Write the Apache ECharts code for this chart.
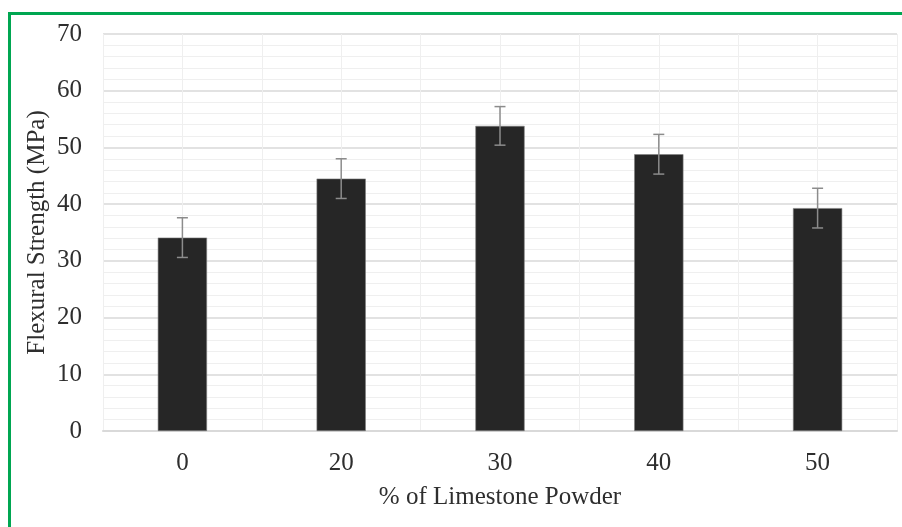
<!DOCTYPE html>
<html>
<head>
<meta charset="utf-8">
<script src="https://cdn.jsdelivr.net/npm/echarts@6/dist/echarts.min.js"></script>
<style>
html,body{margin:0;padding:0;width:902px;height:527px;overflow:hidden;background:#fff;}
#frame{position:absolute;left:8px;top:12px;width:1000px;height:1000px;border:3px solid #00a651;box-sizing:border-box;}
#chart{position:absolute;left:0;top:0;width:902px;height:527px;}
</style>
</head>
<body>
<div id="frame"></div>
<div id="chart"></div>
<script>
const categories = ['0', '20', '30', '40', '50'];
const strength = [34.1, 44.5, 53.8, 48.8, 39.3];
const errorPlus = [3.5, 3.5, 3.4, 3.5, 3.5];
const errorMinus = [3.5, 3.5, 3.4, 3.5, 3.5];
const yTicks = [0, 10, 20, 30, 40, 50, 60, 70];

const errData = categories.map((c, i) => [i, strength[i] - errorMinus[i], strength[i] + errorPlus[i]]);

const chart = echarts.init(document.getElementById('chart'));
const font = 'Liberation Serif, Times New Roman, serif';
const textColor = '#2e2e2e';
chart.setOption({
  animation: false,
  grid: {left: 103, right: 5, top: 34, bottom: 96},
  xAxis: [{
    type: 'category',
    data: categories,
    axisLine: {show: true, lineStyle: {color: '#d9d9d9', width: 2}},
    axisTick: {show: false},
    axisLabel: {fontFamily: font, fontSize: 25, color: textColor, margin: 20},
    splitLine: {show: false},
    name: '% of Limestone Powder',
    nameLocation: 'middle',
    nameGap: 54,
    nameMoveOverlap: false,
    nameTextStyle: {fontFamily: font, fontSize: 25, color: textColor}
  }, {
    type: 'value',
    min: 0, max: 5, interval: 0.5,
    show: true,
    position: 'bottom',
    axisLine: {show: false},
    axisTick: {show: false},
    axisLabel: {show: false},
    splitLine: {show: true, lineStyle: {color: '#efefef', width: 1}}
  }],
  yAxis: {
    type: 'value',
    min: yTicks[0],
    max: yTicks[yTicks.length - 1],
    interval: 10,
    axisLine: {show: false},
    axisTick: {show: false},
    axisLabel: {fontFamily: font, fontSize: 25, color: textColor, margin: 21},
    splitLine: {show: true, lineStyle: {color: '#d9d9d9', width: 1.5}},
    minorTick: {show: false, splitNumber: 5},
    minorSplitLine: {show: true, lineStyle: {color: '#efefef', width: 1}},
    name: 'Flexural Strength (MPa)',
    nameLocation: 'middle',
    nameGap: 53,
    nameMoveOverlap: false,
    nameTextStyle: {fontFamily: font, fontSize: 25, color: textColor}
  },
  series: [{
    type: 'bar',
    data: strength,
    barWidth: '31%',
    itemStyle: {color: '#262626', borderColor: '#7f7f7f', borderWidth: 0.6},
    z: 3
  }, {
    type: 'custom',
    data: errData,
    z: 5,
    renderItem: function (params, api) {
      const x = api.value(0);
      const lo = api.coord([x, api.value(1)]);
      const hi = api.coord([x, api.value(2)]);
      const hw = 5.5;
      const style = {stroke: '#8c8c8c', lineWidth: 1.5};
      return {
        type: 'group',
        children: [
          {type: 'line', shape: {x1: hi[0], y1: hi[1], x2: lo[0], y2: lo[1]}, style: style},
          {type: 'line', shape: {x1: hi[0] - hw, y1: hi[1], x2: hi[0] + hw, y2: hi[1]}, style: style},
          {type: 'line', shape: {x1: lo[0] - hw, y1: lo[1], x2: lo[0] + hw, y2: lo[1]}, style: style}
        ]
      };
    }
  }]
});
</script>
</body>
</html>
